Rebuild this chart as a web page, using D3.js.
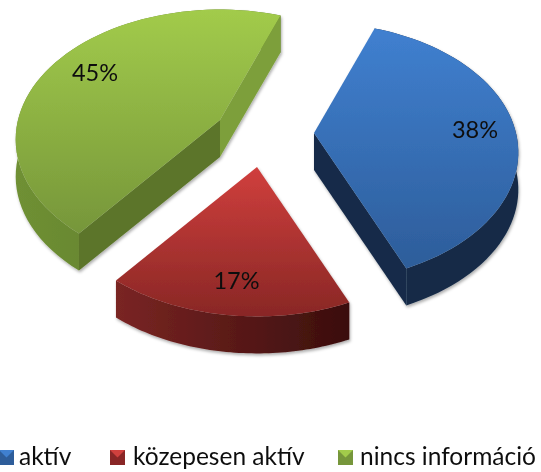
<!DOCTYPE html>
<html><head><meta charset="utf-8">
<style>html,body{margin:0;padding:0;background:#fff;overflow:hidden}svg{display:block}
text{font-family:Lato,"Open Sans",sans-serif;fill:#111}</style>
<script src="https://cdn.jsdelivr.net/npm/d3@7"></script></head><body>
<script>
const categories = ["aktív","közepesen aktív","nincs információ"];
const values = [38,17,45];
const labels = ["38%","17%","45%"];
const startDeg = 20;
const apexes = [[314,133],[257,167],[220,120]];
const labelPos = [[475,138],[236.5,289],[95,81]];
const topColors = [["#4080d0","#2d5d9a"],["#d03f3d","#892725"],["#a2cb4b","#76963a"]];
const arcWall = [["#142a47","#142a47"],["#7a2523","#3a0e0d"],["#6f9034","#58722a"]];
const faceWall = [["#152b49","#152b49"],["#4a1412","#4a1412"],["#5b7529","#7d9f3b"]];
const legendSwatch = [[-1,450],[110,450],[338,450]];
const legendText = [19,133,360];

const W=541,H=472,depth=37,rx=202,ry=127,k=0.15;
const svg=d3.select("body").append("svg").attr("width",W).attr("height",H);
const defs=svg.append("defs");
const f=defs.append("filter").attr("id","sh").attr("x","-10%").attr("y","-10%").attr("width","120%").attr("height","125%");
f.append("feGaussianBlur").attr("in","SourceGraphic").attr("stdDeviation",.5).attr("result","b");
f.append("feDropShadow").attr("in","b").attr("dx",1).attr("dy",2).attr("stdDeviation",1.8).attr("flood-color","#000").attr("flood-opacity",.32);
defs.append("filter").attr("id","soft").append("feGaussianBlur").attr("stdDeviation",.4);

// perspective projection of the pie plane
const project=a=>{const u=Math.sin(a),v=Math.cos(a),w=1+k*v;return [rx*u/w,-ry*v/w];};
const pie=d3.pie().sort(null).startAngle(startDeg*Math.PI/180).endAngle((startDeg+360)*Math.PI/180);
const arcs=pie(values);
const line=d3.line();
const grad=(id,x1,y1,x2,y2,c)=>{const g=defs.append("linearGradient").attr("id",id).attr("gradientUnits","userSpaceOnUse")
  .attr("x1",x1).attr("y1",y1).attr("x2",x2).attr("y2",y2);
  g.append("stop").attr("offset",0).attr("stop-color",c[0]);g.append("stop").attr("offset",1).attr("stop-color",c[1]);return `url(#${id})`;};

arcs.forEach((d,i)=>{
  const [ax,ay]=apexes[i];
  const n=60, pts=d3.range(n+1).map(j=>{const p=project(d.startAngle+(d.endAngle-d.startAngle)*j/n);return [ax+p[0],ay+p[1]];});
  const down=p=>[p[0],p[1]+depth];
  const g=svg.append("g").attr("filter","url(#sh)");
  const apex=[ax,ay];
  const xe=d3.extent(pts,p=>p[0]), ye=d3.extent([apex,...pts],p=>p[1]);
  const first=pts[0], last=pts[n], mid=pts[n/2];
  // rim wall
  g.append("path").attr("d",line(pts.concat(pts.slice().reverse().map(down)))+"Z")
    .attr("fill",grad("w"+i,xe[0],0,xe[1],0,arcWall[i]));
  // cut faces, only when the slice body lies above the edge
  [first,last].forEach((c,j)=>{
    const t=(mid[0]-ax)*(c[1]-ay)-(mid[1]-ay)*(c[0]-ax);
    if (t*(c[0]-ax)<=0) return;
    g.append("path").attr("d",line([apex,c,down(c),down(apex)])+"Z").attr("fill",faceWall[i][j]);
  });
  // top face
  g.append("path").attr("d",line([apex,...pts])+"Z")
    .attr("fill",grad("t"+i,0,ye[0],0,ye[1],topColors[i]));
  svg.append("text").attr("x",labelPos[i][0]).attr("y",labelPos[i][1]).attr("text-anchor","middle")
    .attr("font-size",23.5).attr("filter","url(#soft)").text(labels[i]);
});

// legend
categories.forEach((c,i)=>{
  const [x,y]=legendSwatch[i], s=15;
  const g=svg.append("g").attr("transform",`translate(${x},${y})`).attr("filter","url(#soft)");
  g.append("rect").attr("width",s).attr("height",s).attr("fill",topColors[i][1]);
  g.append("path").attr("d",line([[0,0],[s,0],[s/2,s/2]])+"Z").attr("fill",topColors[i][0]);
  svg.append("text").attr("x",legendText[i]).attr("y",465).attr("font-size",24.5).attr("filter","url(#soft)").text(c);
});
</script></body></html>
